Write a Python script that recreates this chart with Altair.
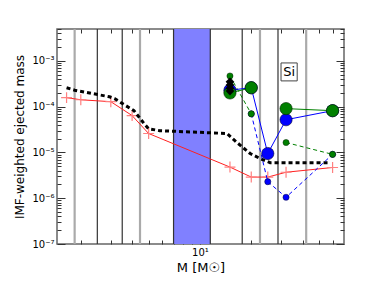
import altair as alt
import pandas as pd

FONT = "DejaVu Sans"

# ---------------- data ----------------
guide_mass = [1.84, 2.5, 3.5, 4.45, 7.0, 11.5, 17.7, 22.5, 28.7, 42.0]
guide_kind = ["light", "dark", "dark", "light", "dark", "dark", "dark", "light", "dark", "light"]
band_lo = [7.0]
band_hi = [11.5]

red_m = [1.65, 2.0, 3.0, 4.0, 5.0, 15.0, 20.0, 25.0, 32.0, 60.0]
red_v = [1.58e-4, 1.42e-4, 1.29e-4, 6.4e-5, 2.6e-5, 4.8e-6, 2.9e-6, 2.9e-6, 3.7e-6, 4.7e-6]

black_m = [1.65, 1.84, 2.95, 3.16, 4.1, 4.7, 5.0, 5.8, 14.4, 16.5, 19.7, 22.5, 25.8, 58.0]
black_v = [2.6e-4, 2.3e-4, 1.65e-4, 1.5e-4, 8.2e-5, 4.3e-5, 3.3e-5, 3.0e-5, 2.6e-5, 1.65e-5,
           9.5e-6, 7.4e-6, 6.0e-6, 6.0e-6]

green_big_m = [15.0, 20.0, 32.0, 60.0]
green_big_v = [2.0e-4, 2.6e-4, 9.1e-5, 8.2e-5]
green_big_seg = [0, 0, 1, 1]

blue_big_m = [15.0, 20.0, 25.0, 32.0, 60.0]
blue_big_v = [2.3e-4, 2.6e-4, 9.5e-6, 5.2e-5, 8.2e-5]

green_small_m = [15.0, 20.0, 32.0, 60.0]
green_small_v = [4.7e-4, 7.0e-5, 1.65e-5, 9.1e-6]
green_small_seg = [0, 0, 1, 1]

blue_small_m = [20.0, 25.0, 32.0, 60.0]
blue_small_v = [7.0e-5, 2.3e-6, 1.05e-6, 9.1e-6]

diamond_m = [15.0, 15.0, 15.0, 15.0]
diamond_v = [3.5e-4, 3.0e-4, 2.55e-4, 2.2e-4]

label_text = ["Si"]
label_m = [33.4]
label_v = [5.8e-4]
label_box_m = [29.9, 37.2]
label_box_v = [3.67e-4, 9.06e-4]

y_major = [1e-7, 1e-6, 1e-5, 1e-4, 1e-3]
y_major_labels = ["10⁻⁷", "10⁻⁶", "10⁻⁵", "10⁻⁴", "10⁻³"]
y_minor = [k * 10.0 ** e for e in range(-7, -2) for k in range(2, 10) if k * 10.0 ** e <= 5e-3]
x_major = [10]
x_major_labels = ["10¹"]
x_minor = [2, 3, 4, 5, 6, 7, 8, 9, 20, 30, 40, 50, 60]

# ---------------- frames ----------------
df_guides = pd.DataFrame({"m": guide_mass, "kind": guide_kind})
df_band = pd.DataFrame({"lo": band_lo, "hi": band_hi})
df_red = pd.DataFrame({"m": red_m, "v": red_v})
df_black = pd.DataFrame({"m": black_m, "v": black_v})
df_gb = pd.DataFrame({"m": green_big_m, "v": green_big_v, "seg": green_big_seg})
df_bb = pd.DataFrame({"m": blue_big_m, "v": blue_big_v})
df_gs = pd.DataFrame({"m": green_small_m, "v": green_small_v, "seg": green_small_seg})
df_bs = pd.DataFrame({"m": blue_small_m, "v": blue_small_v})
df_dia = pd.DataFrame({"m": diamond_m, "v": diamond_v})
df_lab = pd.DataFrame({"m": label_m, "v": label_v, "t": label_text})
df_box = pd.DataFrame({"m0": [label_box_m[0]], "m1": [label_box_m[1]],
                       "v0": [label_box_v[0]], "v1": [label_box_v[1]]})

XS = alt.Scale(type="log", domain=[1.45, 70])
YS = alt.Scale(type="log", domain=[1e-7, 5e-3])


def label_expr(values, labels):
    expr = "''"
    for val, lab in reversed(list(zip(values, labels))):
        expr = f"datum.value < {val * 3} ? '{lab}' : ({expr})"
    return expr


def ax(orient, values, size, **kw):
    base = dict(orient=orient, values=values, tickSize={"expr": str(-size)},
                tickColor="#333333", tickWidth=1, domain=False, grid=False,
                labels=False, title="")
    base.update(kw)
    return alt.Axis(**base)


ax_left_major = ax("left", y_major, 8, labels=True,
                   labelExpr=label_expr(y_major, y_major_labels),
                   labelFont=FONT, labelFontSize=10, labelColor="black", labelPadding=11,
                   title="IMF-weighted ejected mass", titleFont=FONT, titleFontSize=12,
                   titleFontWeight="normal", titleColor="black", titlePadding=5)
ax_left_minor = ax("left", y_minor, 4)
ax_right_major = ax("right", y_major, 8)
ax_right_minor = ax("right", y_minor, 4)
ax_bottom_major = ax("bottom", x_major, 9, labels=True,
                     labelExpr=f"'{x_major_labels[0]}'",
                     labelFont=FONT, labelFontSize=10, labelColor="black", labelPadding=12,
                     title="M [M☉]", titleFont=FONT, titleFontSize=13,
                     titleFontWeight="normal", titleColor="black", titlePadding=4)
ax_bottom_minor = ax("bottom", x_minor, 4)
ax_top_major = ax("top", x_major, 9)
ax_top_minor = ax("top", x_minor, 4)

# ---------------- layers ----------------
band = alt.Chart(df_band).mark_rect(color="#8080ff", opacity=1).encode(
    x=alt.X("lo:Q", scale=XS, axis=None), x2="hi:Q")

guides = alt.Chart(df_guides).mark_rule().encode(
    x=alt.X("m:Q", scale=XS, axis=None),
    color=alt.Color("kind:N", scale=alt.Scale(domain=["dark", "light"], range=["#333333", "#aaaaaa"]), legend=None),
    strokeWidth=alt.StrokeWidth("kind:N", scale=alt.Scale(domain=["dark", "light"], range=[1.2, 2.2]), legend=None))

red_line = alt.Chart(df_red).mark_line(color="#ff2020", strokeWidth=1).encode(
    x=alt.X("m:Q", scale=XS, axis=ax_bottom_major),
    y=alt.Y("v:Q", scale=YS, axis=ax_left_major))

red_pts = alt.Chart(df_red).mark_point(shape="M-1,0L1,0M0,-1L0,1", size=120, filled=False,
                                       color="#ff8080", strokeWidth=1.2, opacity=1).encode(
    x=alt.X("m:Q", scale=XS, axis=ax_bottom_minor),
    y=alt.Y("v:Q", scale=YS, axis=ax_left_minor))

black_line = alt.Chart(df_black).mark_line(color="black", strokeWidth=3, strokeDash=[4, 3]).encode(
    x=alt.X("m:Q", scale=XS, axis=ax_top_major),
    y=alt.Y("v:Q", scale=YS, axis=ax_right_major))

blue_dash = alt.Chart(df_bs).mark_line(color="#0000ff", strokeWidth=1, strokeDash=[4, 3]).encode(
    x=alt.X("m:Q", scale=XS, axis=ax_top_minor),
    y=alt.Y("v:Q", scale=YS, axis=ax_right_minor))
blue_small = alt.Chart(df_bs).mark_circle(color="#0000ff", size=38, opacity=1, stroke="#000033", strokeWidth=0.5).encode(
    x=alt.X("m:Q", scale=XS, axis=None), y=alt.Y("v:Q", scale=YS, axis=None))

green_dash = alt.Chart(df_gs).mark_line(color="#008000", strokeWidth=1, strokeDash=[4, 3]).encode(
    x=alt.X("m:Q", scale=XS, axis=None), y=alt.Y("v:Q", scale=YS, axis=None), detail="seg:N")
green_small = alt.Chart(df_gs).mark_circle(color="#008000", size=38, opacity=1, stroke="#002200", strokeWidth=0.5).encode(
    x=alt.X("m:Q", scale=XS, axis=None), y=alt.Y("v:Q", scale=YS, axis=None))

blue_solid = alt.Chart(df_bb).mark_line(color="#0000ff", strokeWidth=1).encode(
    x=alt.X("m:Q", scale=XS, axis=None), y=alt.Y("v:Q", scale=YS, axis=None))
blue_big = alt.Chart(df_bb).mark_circle(color="#0000ff", size=150, opacity=1, stroke="#000033", strokeWidth=0.6).encode(
    x=alt.X("m:Q", scale=XS, axis=None), y=alt.Y("v:Q", scale=YS, axis=None))

green_solid = alt.Chart(df_gb).mark_line(color="#008000", strokeWidth=1).encode(
    x=alt.X("m:Q", scale=XS, axis=None), y=alt.Y("v:Q", scale=YS, axis=None), detail="seg:N")
green_big = alt.Chart(df_gb).mark_circle(color="#008000", size=150, opacity=1, stroke="#002200", strokeWidth=0.6).encode(
    x=alt.X("m:Q", scale=XS, axis=None), y=alt.Y("v:Q", scale=YS, axis=None))

diamonds = alt.Chart(df_dia).mark_point(shape="diamond", filled=True, color="black", size=75, opacity=1).encode(
    x=alt.X("m:Q", scale=XS, axis=None), y=alt.Y("v:Q", scale=YS, axis=None))

box = alt.Chart(df_box).mark_rect(fill="white", stroke="#444444", strokeWidth=1).encode(
    x=alt.X("m0:Q", scale=XS, axis=None), x2="m1:Q",
    y=alt.Y("v0:Q", scale=YS, axis=None), y2="v1:Q")
text = alt.Chart(df_lab).mark_text(font=FONT, fontSize=13, color="black", baseline="middle", align="center").encode(
    x=alt.X("m:Q", scale=XS, axis=None), y=alt.Y("v:Q", scale=YS, axis=None), text="t:N")

chart = alt.layer(
    band, guides, red_line, red_pts, black_line, blue_dash, blue_small, green_dash, green_small,
    blue_solid, blue_big, green_solid, green_big, diamonds, box, text
).resolve_axis(x="independent", y="independent").properties(
    width=287, height=215,
    autosize=alt.AutoSizeParams(type="none"),
    padding={"left": 49, "top": 21, "right": 30, "bottom": 36},
    background="white",
).configure_view(stroke="#666666", strokeWidth=1.5)

chart.save("out.html", embed_options={"renderer": "svg", "actions": False})
